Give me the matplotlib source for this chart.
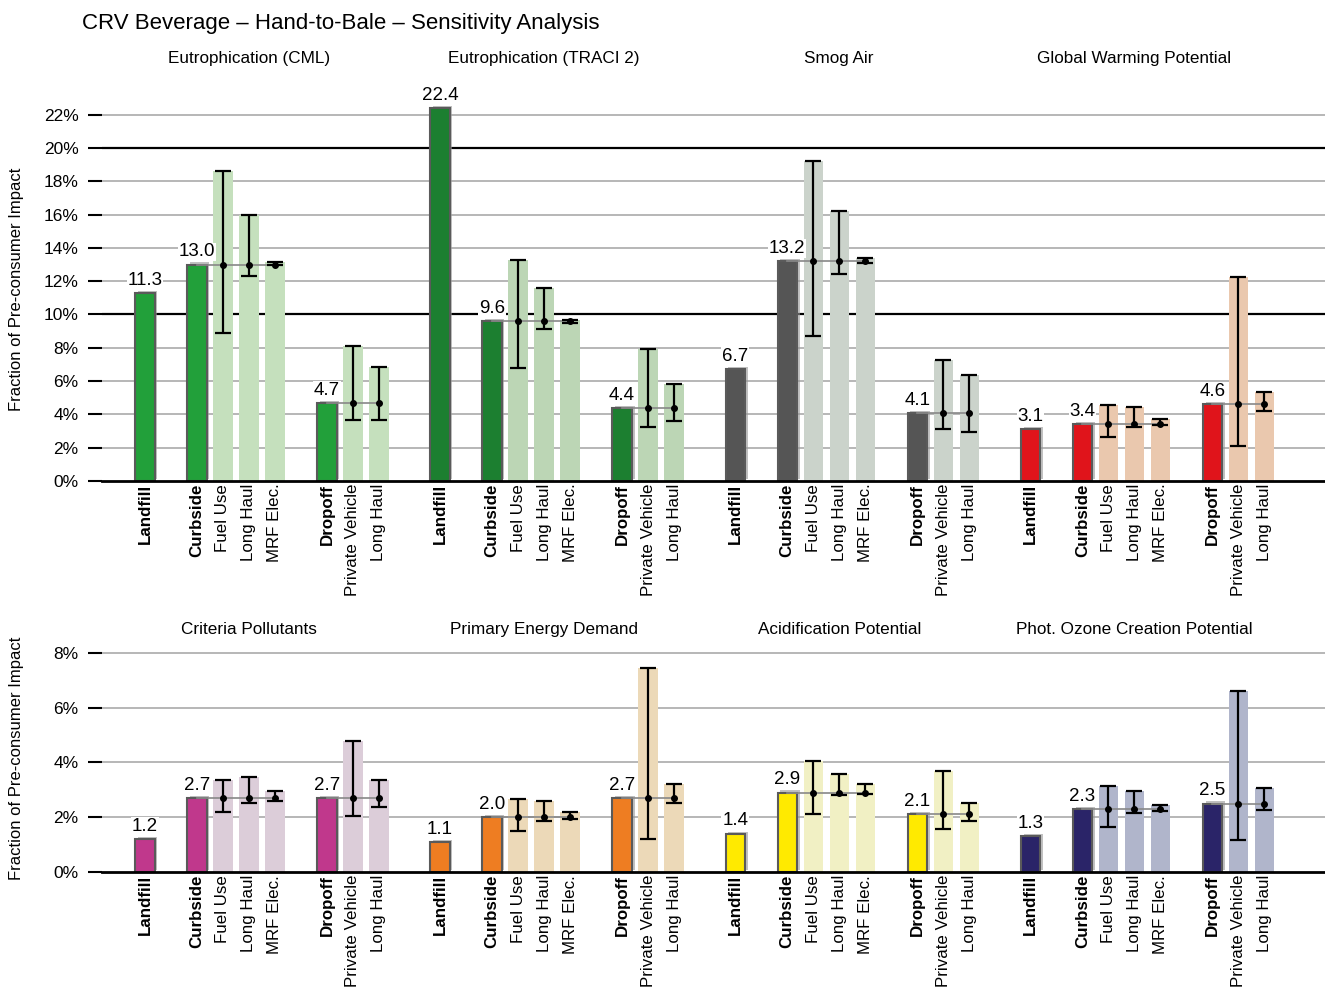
import matplotlib.pyplot as plt
import matplotlib.patheffects as pe
from matplotlib.transforms import blended_transform_factory

plt.rcParams['font.family'] = ['Liberation Sans', 'DejaVu Sans']

# bar order inside each impact group
tick_names = ['Landfill', 'Curbside', 'Fuel Use', 'Long Haul', 'MRF Elec.',
              'Dropoff', 'Private Vehicle', 'Long Haul']
tick_bold = [True, True, False, False, False, True, False, False]

# top row
titles_top = ['Eutrophication (CML)', 'Eutrophication (TRACI 2)', 'Smog Air',
              'Global Warming Potential']
landfill_top = [11.3, 22.4, 6.7, 3.1]
curbside_top = [13.0, 9.6, 13.2, 3.4]
dropoff_top = [4.7, 4.4, 4.1, 4.6]
# curbside sensitivities: Fuel Use, Long Haul, MRF Elec.
curb_lo_top = [[8.9, 12.3, 12.95], [6.8, 9.1, 9.47], [8.7, 12.45, 13.07], [2.66, 3.26, 3.38]]
curb_hi_top = [[18.6, 16.0, 13.17], [13.3, 11.6, 9.67], [19.2, 16.2, 13.37], [4.56, 4.46, 3.74]]
# dropoff sensitivities: Private Vehicle, Long Haul
drop_lo_top = [[3.66, 3.66], [3.26, 3.62], [3.14, 2.94], [2.12, 4.22]]
drop_hi_top = [[8.1, 6.85], [7.95, 5.83], [7.27, 6.37], [12.23, 5.35]]
dark_top = ['#22a03a', '#1c7f30', '#555555', '#e0141b']
light_top = ['#c5e0bd', '#bcd6b5', '#cbd3cb', '#eac8ae']

# bottom row
titles_bot = ['Criteria Pollutants', 'Primary Energy Demand', 'Acidification Potential',
              'Phot. Ozone Creation Potential']
landfill_bot = [1.2, 1.1, 1.4, 1.3]
curbside_bot = [2.7, 2.0, 2.9, 2.3]
dropoff_bot = [2.7, 2.7, 2.1, 2.5]
curb_lo_bot = [[2.2, 2.53, 2.6], [1.51, 1.86, 1.93], [2.13, 2.82, 2.85], [1.65, 2.16, 2.24]]
curb_hi_bot = [[3.36, 3.48, 2.97], [2.68, 2.59, 2.2], [4.06, 3.59, 3.22], [3.15, 2.96, 2.46]]
drop_lo_bot = [[2.04, 2.37], [1.2, 2.53], [1.58, 1.87], [1.17, 2.26]]
drop_hi_bot = [[4.79, 3.36], [7.45, 3.21], [3.69, 2.53], [6.61, 3.05]]
dark_bot = ['#c0388c', '#ee7d22', '#ffea00', '#2a2468']
light_bot = ['#dccdd9', '#ecd9b8', '#f1f0c4', '#b0b5cb']

GROUP_STEP = 11.35
W = 0.74
shadow = [pe.SimplePatchShadow(offset=(2, 1.5), shadow_rgbFace='#999999', alpha=0.6),
          pe.Normal()]


def draw_row(ax, fig, titles, landfill, curbside, dropoff, curb_lo, curb_hi,
             drop_lo, drop_hi, dark, light, ymax, yticks, black_lines, title_y):
    tick_pos, tick_lab, tick_bw = [], [], []
    trans = blended_transform_factory(ax.transData, fig.transFigure)
    for g in range(4):
        x0 = g * GROUP_STEP
        # main scenario bars
        for pos, val in zip([0, 2, 7], [landfill[g], curbside[g], dropoff[g]]):
            ax.bar(x0 + pos, val, W, color=dark[g], edgecolor='#5a5a5a', linewidth=1.5,
                   zorder=3, path_effects=shadow)
            ax.annotate(f'{val:.1f}', (x0 + pos, val), xytext=(0, 3),
                        textcoords='offset points', ha='center', va='bottom', fontsize=13.5,
                        bbox=dict(facecolor='white', edgecolor='none', pad=0.5), zorder=4)
        # sensitivity bars with their ranges
        for base_pos, base, sens_pos, lo, hi in [
                (2, curbside[g], [3, 4, 5], curb_lo[g], curb_hi[g]),
                (7, dropoff[g], [8, 9], drop_lo[g], drop_hi[g])]:
            xs = [x0 + p for p in sens_pos]
            ax.bar(xs, hi, W, color=light[g], linewidth=0, zorder=2)
            ax.plot([x0 + base_pos, xs[-1]], [base, base], color='#888888', lw=1.2, zorder=5)
            for x, l, h in zip(xs, lo, hi):
                ax.errorbar(x, base, yerr=[[base - l], [h - base]], fmt='o', color='black',
                            ms=4, elinewidth=1.6, capsize=5.5, capthick=1.6, zorder=6)
        for i, p in enumerate([0, 2, 3, 4, 5, 7, 8, 9]):
            tick_pos.append(x0 + p)
            tick_lab.append(tick_names[i])
            tick_bw.append(tick_bold[i])
        ax.text(x0 + 4, title_y, titles[g], transform=trans, ha='center', va='center',
                fontsize=12.3)

    ax.set_xlim(-1.65, 45.38)
    ax.set_ylim(0, ymax)
    ax.set_yticks(yticks)
    ax.set_yticklabels([f'{t}%' for t in yticks], fontsize=12.5)
    ax.set_xticks(tick_pos)
    ax.set_xticklabels(tick_lab, rotation=90, fontsize=12.2)
    for lab, bold in zip(ax.get_xticklabels(), tick_bw):
        if bold:
            lab.set_fontweight('bold')
    ax.tick_params(axis='x', length=0, pad=2)
    ax.tick_params(axis='y', length=10, width=1.5, pad=7)
    for t in yticks[1:]:
        if t in black_lines:
            ax.axhline(t, color='black', lw=1.6, zorder=1)
        else:
            ax.axhline(t, color='#aaaaaa', lw=1.2, zorder=1)
    for s in ['top', 'right', 'left']:
        ax.spines[s].set_visible(False)
    ax.spines['bottom'].set_linewidth(2)
    ax.spines['bottom'].set_zorder(7)
    ax.set_ylabel('Fraction of Pre-consumer Impact', fontsize=12)
    ax.yaxis.set_label_coords(-0.0638, 0.5)


fig = plt.figure(figsize=(13.25, 9.88), dpi=100)
ax_top = fig.add_axes([0.077, 0.5132, 0.923, 0.3876])
ax_bot = fig.add_axes([0.077, 0.1174, 0.923, 0.2302])

draw_row(ax_top, fig, titles_top, landfill_top, curbside_top, dropoff_top,
         curb_lo_top, curb_hi_top, drop_lo_top, drop_hi_top, dark_top, light_top,
         23.0, list(range(0, 23, 2)), [10, 20], 1 - 58 / 988)
draw_row(ax_bot, fig, titles_bot, landfill_bot, curbside_bot, dropoff_bot,
         curb_lo_bot, curb_hi_bot, drop_lo_bot, drop_hi_bot, dark_bot, light_bot,
         8.3, list(range(0, 9, 2)), [], 1 - 629 / 988)

fig.text(82 / 1325, 1 - 23 / 988, 'CRV Beverage \u2013 Hand-to-Bale \u2013 Sensitivity Analysis',
         fontsize=16, va='center', ha='left')

fig.savefig('out.png', dpi=100)
